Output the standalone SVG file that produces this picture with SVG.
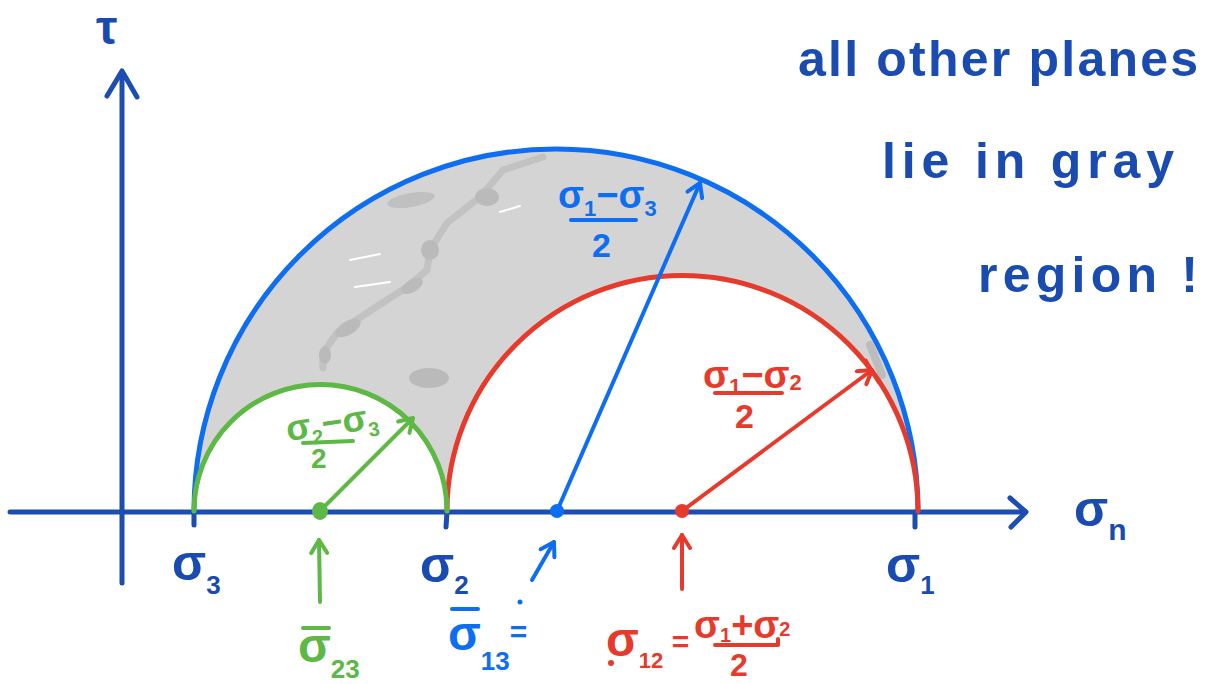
<svg xmlns="http://www.w3.org/2000/svg" width="1206" height="684" viewBox="0 0 1206 684">
<style>
.ax{stroke:#1b4db3;stroke-width:5;fill:none;stroke-linecap:round;stroke-linejoin:round}
.bl{stroke:#0d6ef2;fill:none;stroke-linecap:round;stroke-linejoin:round}
.rd{stroke:#e63a2c;fill:none;stroke-linecap:round;stroke-linejoin:round}
.gr{stroke:#5db846;fill:none;stroke-linecap:round;stroke-linejoin:round}
text{font-family:"Liberation Sans","DejaVu Sans",sans-serif;font-weight:bold}
.tb{fill:#1a4bb0}
.tl{fill:#0d6ef2}
.tr{fill:#e63a2c}
.tg{fill:#5db846}
.hand{font-family:"Liberation Sans","DejaVu Sans",sans-serif;font-weight:bold;fill:#1a4bb0;font-size:50px}
.blob{fill:#bababa}
</style>
<defs>
<marker id="mb" markerUnits="userSpaceOnUse" viewBox="0 0 20 20" refX="18" refY="10" markerWidth="20" markerHeight="20" orient="auto">
<path d="M5,2 L18,10 L5,18" fill="none" stroke="#0d6ef2" stroke-width="4" stroke-linecap="round" stroke-linejoin="round"/>
</marker>
<marker id="mr" markerUnits="userSpaceOnUse" viewBox="0 0 20 20" refX="18" refY="10" markerWidth="20" markerHeight="20" orient="auto">
<path d="M5,2 L18,10 L5,18" fill="none" stroke="#e63a2c" stroke-width="4" stroke-linecap="round" stroke-linejoin="round"/>
</marker>
<marker id="mg" markerUnits="userSpaceOnUse" viewBox="0 0 20 20" refX="18" refY="10" markerWidth="20" markerHeight="20" orient="auto">
<path d="M5,2 L18,10 L5,18" fill="none" stroke="#5db846" stroke-width="4" stroke-linecap="round" stroke-linejoin="round"/>
</marker>
</defs>

<g id="gray-region">
<path d="M194,511 A362,362 0 0 1 918,511 A235.5,235.5 0 0 0 447,511 A126.5,126.5 0 0 0 194,511 Z" fill="#d4d4d4"/>
<path d="M543,157 L503,170 L480,197 L447,223 L430,250 L427,270 L407,287 L367,313 L337,333 L323,353 L323,368" fill="none" stroke="#c2c2c2" stroke-width="7" stroke-linecap="round" stroke-linejoin="round"/>
<ellipse class="blob" cx="487" cy="197" rx="12" ry="9"/>
<ellipse class="blob" cx="430" cy="250" rx="9" ry="10"/>
<ellipse class="blob" cx="412" cy="286" rx="12" ry="6" transform="rotate(-30 412 286)"/>
<ellipse class="blob" cx="348" cy="328" rx="14" ry="7" transform="rotate(-30 348 328)"/>
<ellipse class="blob" cx="325" cy="355" rx="6" ry="9"/>
<ellipse class="blob" cx="429" cy="378" rx="20" ry="10"/>
<ellipse cx="411" cy="200" rx="24" ry="7" fill="#c0c0c0" transform="rotate(-10 411 200)"/>
<path d="M870,345 L882,375" stroke="#bcbcbc" stroke-width="8" stroke-linecap="round"/>
<path d="M350,260 L380,254 M355,287 L390,282 M500,212 L520,206" stroke="#ffffff" stroke-width="2" stroke-linecap="round"/>
</g>

<g id="axes">
<path class="ax" d="M10,512 L1025,512"/>
<path class="ax" d="M1010,498 L1026,512 L1011,527"/>
<path class="ax" d="M122,583 L122,72"/>
<path class="ax" d="M107,96 L122,71 L137,97"/>
<path class="ax" d="M194,512 L194,525 M447,512 L446,527 M915,512 L915,527"/>
</g>

<g id="circle-13">
<path class="bl" stroke-width="5" d="M194,511 A362,362 0 0 1 918,511"/>
</g>
<g id="circle-12">
<path class="rd" stroke-width="5" d="M447,511 A235.5,235.5 0 0 1 918,511"/>
</g>
<g id="circle-23">
<path class="gr" stroke-width="5" d="M194,511 A126.5,126.5 0 0 1 447,511"/>
</g>

<g id="connectors">
<path class="bl" stroke-width="4" d="M557,511 L700,183" marker-end="url(#mb)"/>
<path class="rd" stroke-width="4" d="M682,511 L872,370" marker-end="url(#mr)"/>
<path class="rd" stroke-width="3" d="M866,360 L878,382"/>
<path class="gr" stroke-width="4" d="M320,511 L413,418" marker-end="url(#mg)"/>
<path class="gr" stroke-width="4" d="M320,602 L319,540" marker-end="url(#mg)"/>
<path class="bl" stroke-width="4" d="M532,580 L554,542" marker-end="url(#mb)"/>
<path class="rd" stroke-width="4" d="M682,589 L682,535" marker-end="url(#mr)"/>
</g>

<g id="centers">
<ellipse cx="320" cy="511" rx="8" ry="9" fill="#5db846"/>
<circle cx="557" cy="511" r="7" fill="#0d6ef2"/>
<circle cx="682" cy="511" r="7" fill="#e63a2c"/>
</g>

<g id="axis-labels">
<text class="tb" x="96" y="44" font-size="48">τ</text>
<text class="tb" x="1074" y="526" font-size="50">σ<tspan font-size="30" dy="14">n</tspan></text>
<text class="tb" x="172" y="580" font-size="50">σ<tspan font-size="26" dy="14">3</tspan></text>
<text class="tb" x="420" y="582" font-size="50">σ<tspan font-size="26" dy="12">2</tspan></text>
<text class="tb" x="886" y="582" font-size="50">σ<tspan font-size="26" dy="12">1</tspan></text>
</g>

<g id="label-r13">
<text class="tl" x="558" y="208" font-size="38">σ<tspan font-size="22" dy="8">1</tspan><tspan dy="-8">−σ</tspan><tspan font-size="22" dy="8">3</tspan></text>
<path class="bl" stroke-width="4" d="M571,220 L636,220"/>
<text class="tl" x="592" y="257" font-size="34">2</text>
</g>

<g id="label-r23">
<g transform="rotate(-8 330 425)">
<text class="tg" x="286" y="435" font-size="36">σ<tspan font-size="20" dy="7">2</tspan><tspan dy="-7">−σ</tspan><tspan font-size="20" dy="7">3</tspan></text>
</g>
<path class="gr" stroke-width="4" d="M303,443 L353,441"/>
<text class="tg" x="311" y="468" font-size="28">2</text>
</g>

<g id="label-r12">
<text class="tr" x="703" y="388" font-size="38">σ<tspan font-size="22" dy="6">1</tspan><tspan dy="-6">−σ</tspan><tspan font-size="22" dy="2">2</tspan></text>
<path class="rd" stroke-width="4" d="M715,393 L782,393"/>
<text class="tr" x="735" y="428" font-size="34">2</text>
</g>

<g id="label-mean23">
<path class="gr" stroke-width="4" d="M303,628 L329,628"/>
<text class="tg" x="298" y="662" font-size="48">σ<tspan font-size="26" dy="16">23</tspan></text>
</g>

<g id="label-mean13">
<path class="bl" stroke-width="4" d="M452,609 L478,609"/>
<text class="tl" x="448" y="650" font-size="48">σ<tspan font-size="26" dy="20">13</tspan><tspan font-size="30" dy="-28">=</tspan></text>
<circle cx="520" cy="602" r="2.5" fill="#0d6ef2"/>
</g>

<g id="label-mean12">
<text class="tr" x="606" y="656" font-size="48">σ<tspan font-size="22" dy="12">12</tspan><tspan font-size="30" dy="-16"> =</tspan></text>
<circle cx="611" cy="663" r="3" fill="#e63a2c"/>
<text class="tr" x="694" y="638" font-size="38">σ<tspan font-size="20" dy="4">1</tspan><tspan dy="-4">+σ</tspan><tspan font-size="20" dy="-2">2</tspan></text>
<path class="rd" stroke-width="4" d="M715,645 L778,645 L778,639"/>
<text class="tr" x="730" y="676" font-size="32">2</text>
</g>

<g id="note">
<text class="hand" x="798" y="76" textLength="400" lengthAdjust="spacing">all other planes</text>
<text class="hand" x="882" y="178" textLength="292" lengthAdjust="spacing">lie in gray</text>
<text class="hand" x="978" y="292" textLength="220" lengthAdjust="spacing">region !</text>
</g>
</svg>
